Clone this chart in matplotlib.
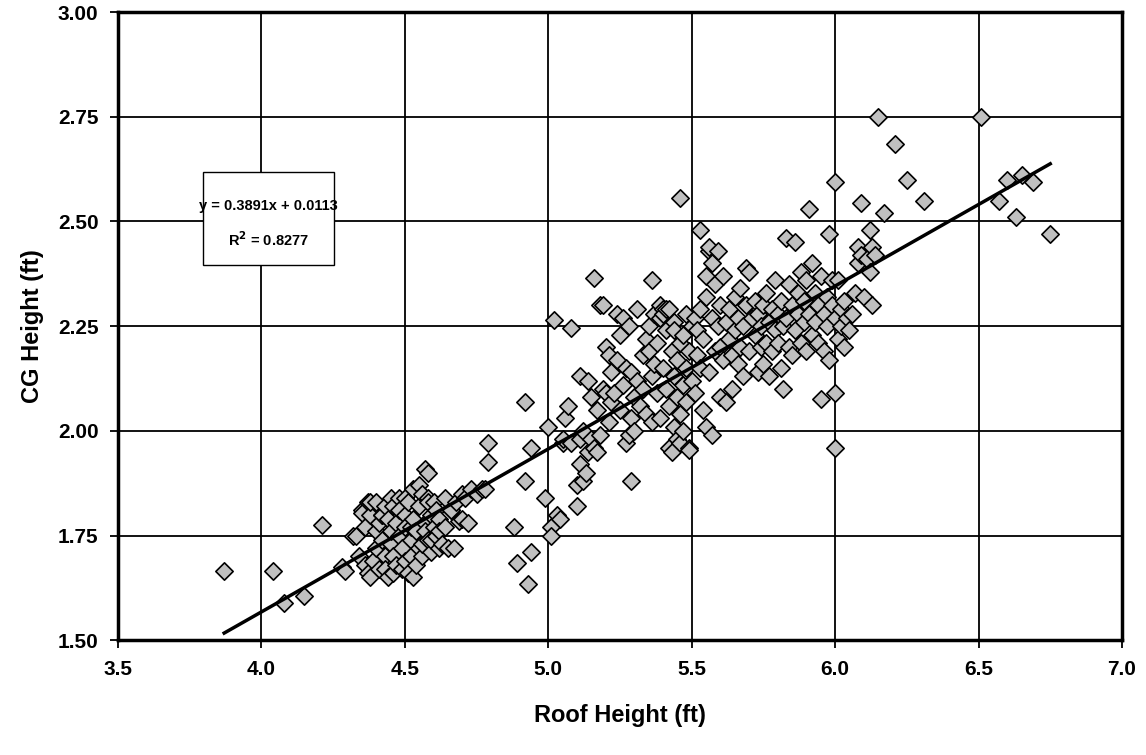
import matplotlib.pyplot as plt
from matplotlib.patches import Rectangle
import numpy as np

# roof height vs CG height (ft), grouped by roof height band
roof_a = [3.87, 4.04, 4.08, 4.15, 4.21, 4.28, 4.29, 4.32, 4.33, 4.34, 4.35, 4.35, 4.36, 4.36,
          4.37, 4.37, 4.38, 4.38, 4.38, 4.39, 4.40, 4.40, 4.40, 4.41, 4.41, 4.42, 4.42, 4.42,
          4.43, 4.43, 4.43, 4.44, 4.44, 4.45, 4.45, 4.45, 4.46, 4.46, 4.46, 4.47, 4.47, 4.48,
          4.48, 4.48, 4.49, 4.49, 4.50, 4.50, 4.50, 4.50, 4.51, 4.51, 4.52, 4.52, 4.52, 4.53,
          4.53, 4.53, 4.54, 4.54, 4.55, 4.55, 4.55, 4.56, 4.56, 4.56, 4.57, 4.57, 4.57, 4.58,
          4.58, 4.58, 4.58, 4.59, 4.59, 4.59, 4.60, 4.60, 4.61, 4.61, 4.62, 4.62, 4.62, 4.63,
          4.64, 4.64, 4.65, 4.66, 4.66, 4.67, 4.68, 4.69, 4.70, 4.70, 4.71, 4.72, 4.73, 4.75,
          4.77, 4.78, 4.79, 4.79]
cg_a = [1.665, 1.665, 1.59, 1.605, 1.775, 1.675, 1.665, 1.75, 1.75, 1.70, 1.81, 1.805, 1.77, 1.68,
        1.83, 1.66, 1.80, 1.65, 1.83, 1.69, 1.72, 1.76, 1.83, 1.78, 1.67, 1.80, 1.74, 1.80,
        1.70, 1.67, 1.82, 1.65, 1.79, 1.73, 1.76, 1.84, 1.82, 1.70, 1.66, 1.68, 1.78, 1.75,
        1.84, 1.81, 1.72, 1.67, 1.80, 1.77, 1.69, 1.84, 1.66, 1.83, 1.74, 1.70, 1.77, 1.86,
        1.79, 1.65, 1.68, 1.76, 1.82, 1.72, 1.87, 1.85, 1.70, 1.73, 1.91, 1.78, 1.76, 1.90,
        1.74, 1.84, 1.83, 1.80, 1.71, 1.74, 1.77, 1.83, 1.75, 1.81, 1.79, 1.72, 1.76, 1.73,
        1.77, 1.84, 1.72, 1.81, 1.81, 1.72, 1.83, 1.785, 1.85, 1.79, 1.84, 1.78, 1.86, 1.85,
        1.86, 1.86, 1.97, 1.925]

roof_b = [4.88, 4.89, 4.92, 4.92, 4.93, 4.94, 4.94, 4.99, 5.00, 5.01, 5.01, 5.02, 5.03, 5.04,
          5.05, 5.05, 5.06, 5.07, 5.08, 5.08, 5.10, 5.10, 5.11, 5.11, 5.11, 5.12, 5.12, 5.13,
          5.14, 5.14, 5.15, 5.15, 5.16, 5.16, 5.17, 5.17, 5.18, 5.18, 5.19, 5.19, 5.20, 5.20,
          5.21, 5.21, 5.22, 5.22, 5.23, 5.24, 5.24, 5.25, 5.25, 5.26, 5.26, 5.27, 5.27, 5.28,
          5.28, 5.29, 5.29, 5.29, 5.30, 5.30, 5.31, 5.31, 5.32, 5.33, 5.33, 5.34, 5.34, 5.35,
          5.35, 5.36, 5.36, 5.36, 5.37, 5.37, 5.38, 5.38, 5.39, 5.39, 5.39, 5.40, 5.40, 5.40,
          5.41, 5.41, 5.41, 5.42, 5.42, 5.42, 5.43, 5.43, 5.44, 5.44, 5.44, 5.44, 5.45, 5.45,
          5.45, 5.46, 5.46, 5.46, 5.46, 5.47, 5.47, 5.47, 5.48, 5.48, 5.48, 5.49, 5.49, 5.49,
          5.50, 5.50, 5.51, 5.51, 5.52, 5.52, 5.53, 5.53, 5.53, 5.54, 5.54, 5.55, 5.55, 5.55,
          5.56, 5.56, 5.56, 5.57, 5.57, 5.57, 5.58, 5.58, 5.59, 5.59, 5.60, 5.60]
cg_b = [1.77, 1.685, 2.07, 1.88, 1.635, 1.71, 1.96, 1.84, 2.01, 1.77, 1.75, 2.265, 1.80, 1.79,
        1.97, 1.98, 2.03, 2.06, 2.245, 1.97, 1.87, 1.82, 2.13, 1.98, 1.92, 1.88, 2.00, 1.90,
        2.12, 1.95, 1.98, 2.08, 1.96, 2.365, 2.05, 1.95, 1.99, 2.30, 2.10, 2.30, 2.20, 2.09,
        2.18, 2.02, 2.14, 2.07, 2.09, 2.17, 2.28, 2.23, 2.05, 2.27, 2.11, 2.15, 1.97, 1.99,
        2.25, 2.03, 2.14, 1.88, 2.08, 2.00, 2.12, 2.29, 2.06, 2.10, 2.18, 2.22, 2.04, 2.19,
        2.25, 2.02, 2.13, 2.36, 2.16, 2.28, 2.09, 2.21, 2.27, 2.03, 2.30, 2.29, 2.15, 2.28,
        2.24, 2.10, 2.29, 2.29, 1.96, 2.06, 2.19, 1.95, 2.26, 2.13, 2.01, 2.24, 2.08, 2.17,
        1.98, 2.21, 2.04, 1.97, 2.555, 2.11, 2.23, 2.00, 2.28, 2.15, 2.07, 1.96, 2.19, 1.955,
        2.25, 2.12, 2.27, 2.09, 2.24, 2.18, 2.15, 2.29, 2.48, 2.05, 2.22, 2.32, 2.01, 2.37,
        2.43, 2.14, 2.44, 2.40, 2.27, 1.99, 2.35, 2.19, 2.43, 2.25, 2.08, 2.30]

roof_c = [5.60, 5.61, 5.61, 5.62, 5.62, 5.63, 5.63, 5.64, 5.64, 5.65, 5.65, 5.66, 5.66, 5.67,
          5.67, 5.68, 5.68, 5.69, 5.69, 5.70, 5.70, 5.71, 5.72, 5.72, 5.73, 5.73, 5.74, 5.74,
          5.75, 5.75, 5.76, 5.76, 5.77, 5.77, 5.78, 5.78, 5.79, 5.79, 5.80, 5.80, 5.81, 5.81,
          5.82, 5.82, 5.83, 5.83, 5.84, 5.84, 5.85, 5.85, 5.86, 5.86, 5.87, 5.87, 5.88, 5.88,
          5.89, 5.89, 5.90, 5.90, 5.91, 5.91, 5.92, 5.92, 5.93, 5.93, 5.94, 5.94, 5.95, 5.95,
          5.96, 5.96, 5.97, 5.97, 5.98, 5.98, 5.99, 5.99, 6.00, 6.00, 6.00, 6.00, 6.01, 6.01,
          6.02, 6.02, 6.03, 6.03, 6.04, 6.05, 6.06, 6.07, 6.08, 6.08, 6.09, 6.09, 6.10, 6.11,
          6.12, 6.12, 6.13, 6.13, 6.14, 6.15, 6.17, 6.21, 6.25, 6.31, 6.51, 6.57, 6.60, 6.63,
          6.65, 6.69, 6.75]
cg_c = [2.20, 2.37, 2.17, 2.07, 2.26, 2.22, 2.29, 2.10, 2.18, 2.24, 2.32, 2.16, 2.27, 2.34,
        2.20, 2.13, 2.25, 2.39, 2.30, 2.38, 2.19, 2.27, 2.23, 2.31, 2.14, 2.28, 2.20, 2.25,
        2.30, 2.16, 2.21, 2.33, 2.26, 2.13, 2.29, 2.19, 2.24, 2.36, 2.28, 2.21, 2.15, 2.31,
        2.25, 2.10, 2.46, 2.27, 2.35, 2.20, 2.30, 2.18, 2.45, 2.24, 2.33, 2.28, 2.38, 2.21,
        2.26, 2.31, 2.19, 2.36, 2.53, 2.28, 2.23, 2.40, 2.33, 2.26, 2.30, 2.21, 2.37, 2.075,
        2.28, 2.19, 2.25, 2.32, 2.47, 2.17, 2.30, 2.36, 2.595, 2.27, 2.09, 1.96, 2.36, 2.22,
        2.29, 2.25, 2.20, 2.31, 2.27, 2.24, 2.28, 2.33, 2.44, 2.40, 2.545, 2.42, 2.32, 2.41,
        2.48, 2.38, 2.44, 2.30, 2.42, 2.75, 2.52, 2.685, 2.60, 2.55, 2.75, 2.55, 2.60, 2.51,
        2.61, 2.595, 2.47]

roof = np.array(roof_a + roof_b + roof_c)
cg = np.array(cg_a + cg_b + cg_c)

slope, intercept = 0.3891, 0.0113
r2 = 0.8277

plt.rcParams['font.family'] = ['Liberation Sans', 'DejaVu Sans']

fig = plt.figure(figsize=(11.46, 7.55), dpi=100)
ax = fig.add_axes([0.103, 0.152, 0.876, 0.832])

ax.scatter(roof, cg, marker='D', s=78, facecolor='#c0c0c0', edgecolor='black',
           linewidths=1.2, zorder=3)

x_fit = np.array([roof.min(), roof.max()])
ax.plot(x_fit, slope * x_fit + intercept, color='black', lw=2.5, zorder=4)

ax.set_xlim(3.5, 7.0)
ax.set_ylim(1.5, 3.0)
ax.set_xticks(np.arange(3.5, 7.01, 0.5))
ax.set_yticks(np.arange(1.5, 3.01, 0.25))
ax.set_xticklabels([f'{v:.1f}' for v in ax.get_xticks()])
ax.set_yticklabels([f'{v:.2f}' for v in ax.get_yticks()])
ax.grid(True, color='black', lw=1.3, zorder=0)
ax.set_axisbelow(True)
for sp in ax.spines.values():
    sp.set_linewidth(2.5)
ax.tick_params(direction='out', length=6, width=1.3, labelsize=15, pad=8)
for lbl in ax.get_xticklabels() + ax.get_yticklabels():
    lbl.set_fontweight('bold')

ax.set_xlabel('Roof Height (ft)', fontsize=17, fontweight='bold', labelpad=18)
ax.set_ylabel('CG Height (ft)', fontsize=17, fontweight='bold', labelpad=10)

# regression box
ax.add_patch(Rectangle((3.796, 2.396), 0.457, 0.222, facecolor='white',
                       edgecolor='black', lw=1, zorder=5))
ax.text(4.025, 2.537, f'y = {slope:.4f}x + {intercept:.4f}', ha='center', va='center',
        fontsize=10.5, fontweight='bold', zorder=6)
ax.text(4.025, 2.457, f'R$^\\mathbf{{2}}$ = {r2:.4f}', ha='center', va='center',
        fontsize=10.5, fontweight='bold', zorder=6)

fig.savefig('out.png', dpi=100)
